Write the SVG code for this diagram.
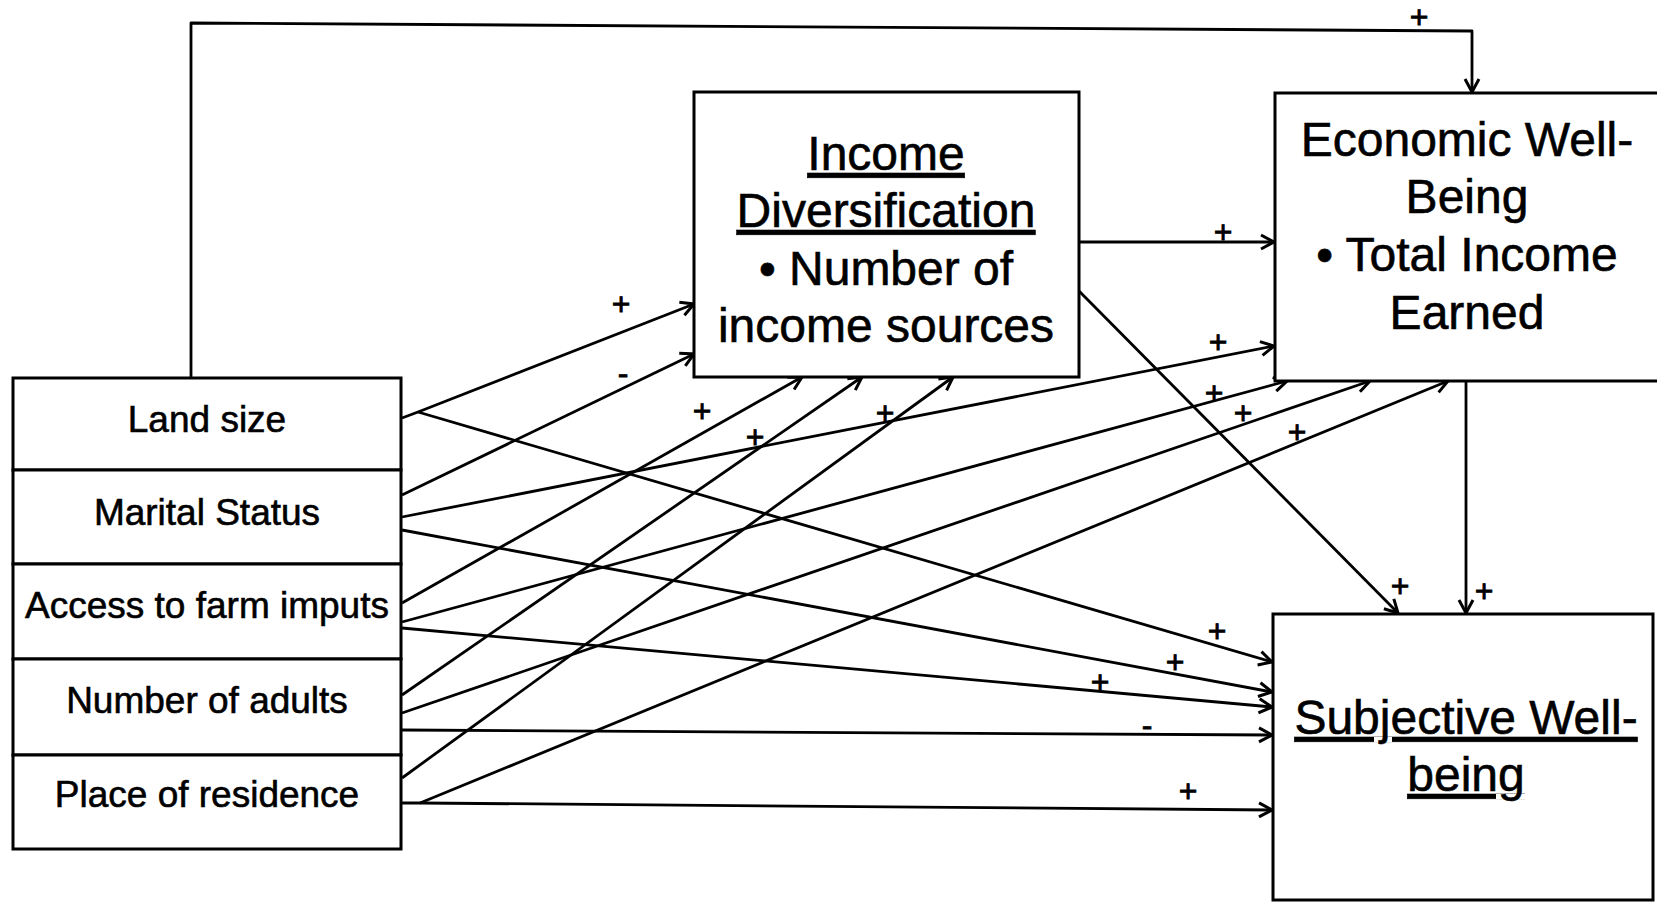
<svg xmlns="http://www.w3.org/2000/svg" width="1657" height="902" viewBox="0 0 1657 902">
<style>
.box{fill:#fff;stroke:#000;stroke-width:3}
.big{font-family:"Liberation Sans",Arial,sans-serif;font-size:48px;text-anchor:middle;fill:#000;stroke:#000;stroke-width:0.6}
.stk{font-family:"Liberation Sans",Arial,sans-serif;font-size:37px;text-anchor:middle;fill:#000;stroke:#000;stroke-width:0.6}
.lbl{font-family:"Liberation Sans",Arial,sans-serif;font-size:32px;text-anchor:middle;fill:#000;stroke:#000;stroke-width:0.8}
.u{text-decoration:underline}
.c{fill:none;stroke:#000;stroke-width:2.8;stroke-linejoin:round}
.a{marker-end:url(#arr)}
</style>
<defs>
<marker id="arr" markerUnits="userSpaceOnUse" markerWidth="18" markerHeight="18" viewBox="0 0 18 18" refX="16" refY="9" orient="auto">
<path d="M3,2 L16,9 L3,16" fill="none" stroke="#000" stroke-width="3" stroke-linejoin="miter"/>
</marker>
</defs>
<rect width="1657" height="902" fill="#fff"/>

<g id="connectors">
<path class="c" d="M191,378 L191,23 L1472,31 L1472,92" marker-end="url(#arr)"/>
<path class="c a" d="M402,418 L418,412 L694,304"/>
<path class="c a" d="M418,412 L1272,662"/>
<path class="c a" d="M402,495 L694,354"/>
<path class="c a" d="M402,517 L1274,346"/>
<path class="c a" d="M402,530 L1272,692"/>
<path class="c a" d="M402,603 L802,377"/>
<path class="c a" d="M402,622 L1287,381"/>
<path class="c a" d="M402,628 L1272,707"/>
<path class="c a" d="M402,695 L862,377"/>
<path class="c a" d="M402,713 L1370,381"/>
<path class="c a" d="M402,730 L1272,735"/>
<path class="c a" d="M402,778 L953,377"/>
<path class="c a" d="M402,803 L420,803 L1448,381"/>
<path class="c a" d="M420,803 L1272,810"/>
<path class="c a" d="M1079,242 L1274,242"/>
<path class="c a" d="M1079,291 L1398,613"/>
<path class="c a" d="M1466,380 L1466,613"/>
<g id="labels">
<text class="lbl" x="1419" y="28">+</text>
<text class="lbl" x="621" y="315">+</text>
<text class="lbl" x="623" y="384">-</text>
<text class="lbl" x="702" y="422">+</text>
<text class="lbl" x="755" y="448">+</text>
<text class="lbl" x="885" y="424">+</text>
<text class="lbl" x="1223" y="243">+</text>
<text class="lbl" x="1218" y="353">+</text>
<text class="lbl" x="1214" y="404">+</text>
<text class="lbl" x="1243" y="424">+</text>
<text class="lbl" x="1297" y="443">+</text>
<text class="lbl" x="1400" y="597">+</text>
<text class="lbl" x="1484" y="602">+</text>
<text class="lbl" x="1217" y="642">+</text>
<text class="lbl" x="1175" y="673">+</text>
<text class="lbl" x="1100" y="693">+</text>
<text class="lbl" x="1147" y="736">-</text>
<text class="lbl" x="1188" y="802">+</text>
</g>
</g>

<g id="land-size">
<rect class="box" x="13" y="378" width="388" height="92"/>
<text class="stk" x="207" y="432">Land size</text>
</g>
<g id="marital-status">
<rect class="box" x="13" y="470" width="388" height="94"/>
<text class="stk" x="207" y="525">Marital Status</text>
</g>
<g id="access-farm-inputs">
<rect class="box" x="13" y="564" width="388" height="95"/>
<text class="stk" x="207" y="618">Access to farm imputs</text>
</g>
<g id="number-adults">
<rect class="box" x="13" y="659" width="388" height="96"/>
<text class="stk" x="207" y="713">Number of adults</text>
</g>
<g id="place-residence">
<rect class="box" x="13" y="755" width="388" height="94"/>
<text class="stk" x="207" y="807">Place of residence</text>
</g>

<g id="income-diversification">
<rect class="box" x="694" y="92" width="385" height="285"/>
<text class="big u" x="886" y="170">Income</text>
<text class="big u" x="886" y="227">Diversification</text>
<text class="big" x="886" y="285">• Number of</text>
<text class="big" x="886" y="342">income sources</text>
</g>

<g id="economic-well-being">
<rect class="box" x="1275" y="93" width="390" height="288"/>
<text class="big" x="1467" y="156">Economic Well-</text>
<text class="big" x="1467" y="213">Being</text>
<text class="big" x="1467" y="271">• Total Income</text>
<text class="big" x="1467" y="329">Earned</text>
</g>

<g id="subjective-well-being">
<rect class="box" x="1273" y="614" width="380" height="286"/>
<text class="big u" x="1466" y="734">Subjective Well-</text>
<text class="big u" x="1466" y="791">being</text>
</g>
</svg>
